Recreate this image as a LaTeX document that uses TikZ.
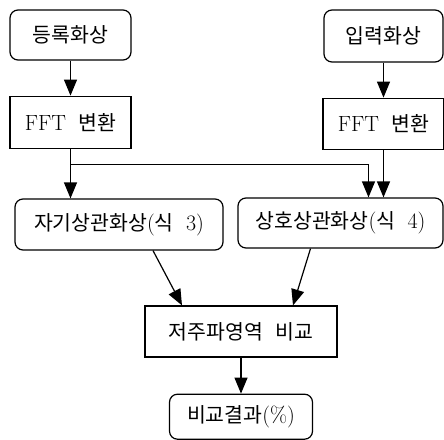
\documentclass[tikz,border=0pt]{standalone}
\usepackage{fontspec}
\newfontfamily\kr{Noto Sans CJK KR}
\usepackage{tikz}
\usetikzlibrary{arrows.meta,positioning,calc}
\tikzset{
  basebox/.style={rectangle,draw=black,line width=1.2pt,align=center,
                  font=\fontsize{20.5}{24}\selectfont,inner sep=0pt},
  rbox/.style={basebox,rounded corners=8pt},
  sbox/.style={basebox},
  arr/.style={-{Triangle[length=16pt,width=13pt]},line width=1.2pt,color=black}
}
\newcommand{\lat}[1]{{\fontsize{22}{24}\selectfont #1}}
\newcommand{\wsp}{\hspace{0.6em}}

\begin{document}
\begin{tikzpicture}[x=1pt,y=1pt,node distance=35pt]
  \useasboundingbox (0,0) rectangle (444,-439);
  % left column
  \node[rbox,minimum width=121pt,minimum height=50pt] (reg) at (70.5,-35)
      {\kr 등록화상};
  \node[sbox,minimum width=121pt,minimum height=52pt,below=of reg] (ffta)
      {\lat{FFT}\wsp{\kr 변환}};
  % right column
  \node[rbox,minimum width=119pt,minimum height=52pt] (inp) at (383.5,-36)
      {\kr 입력화상};
  \node[sbox,minimum width=121pt,minimum height=51pt,below=of inp] (fftb)
      {\lat{FFT}\wsp{\kr 변환}};
  % correlation images
  \node[rbox,minimum width=208pt,minimum height=51pt] (auto) at (119,-224.5)
      {{\kr 자기상관화상}\lat{(}{\kr 식}\wsp\lat{3)}};
  \node[rbox,minimum width=205pt,minimum height=50pt] (cross) at (340.5,-223)
      {{\kr 상호상관화상}\lat{(}{\kr 식}\wsp\lat{4)}};
  % comparison
  \node[sbox,minimum width=192pt,minimum height=51pt] (low) at (241,-331.5)
      {{\kr 저주파영역}\wsp{\kr 비교}};
  \node[rbox,minimum width=143pt,minimum height=45pt,below=36pt of low] (res)
      {{\kr 비교결과}\lat{(\%)}};

  \coordinate (br) at ($(ffta.south)+(0,-16)$);

  \foreach \f/\t in {reg/ffta,inp/fftb,low/res}
    \draw[arr] (\f) -- (\t);
  \draw[arr] (ffta.south) -- (ffta.south |- auto.north);
  \draw[arr] (fftb.south) -- (fftb.south |- cross.north);
  \draw[arr] (br) -| ([xshift=-15pt]fftb.south |- cross.north);
  \draw[arr] ([xshift=34pt]auto.south) -- ([xshift=-59pt]low.north);
  \draw[arr] ([xshift=-30pt]cross.south) -- ([xshift=52pt]low.north);
\end{tikzpicture}
\end{document}
